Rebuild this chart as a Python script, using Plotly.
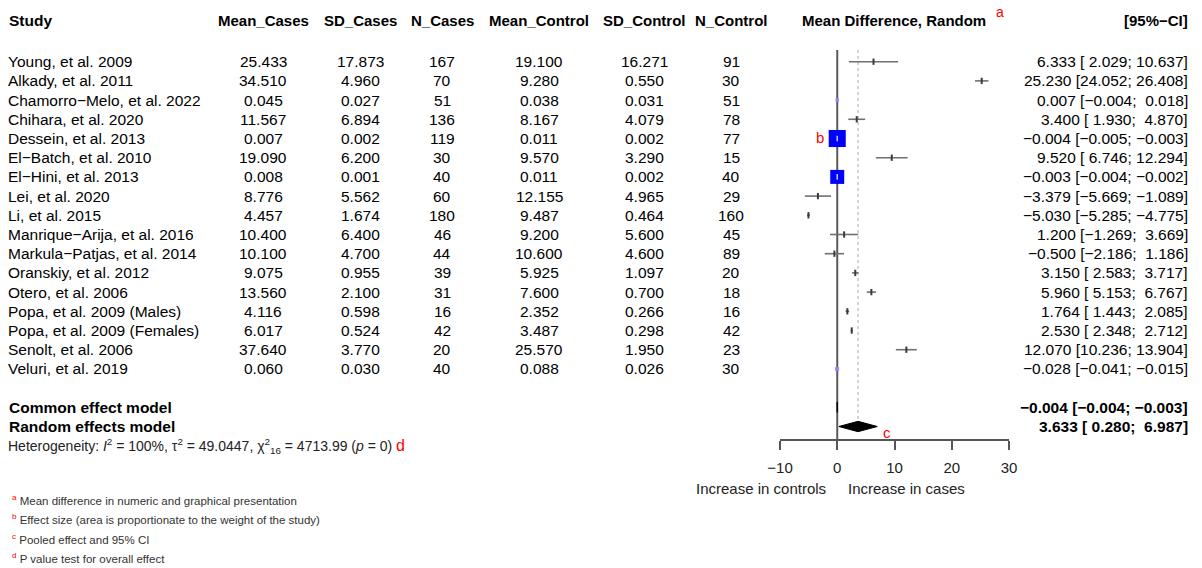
import plotly.graph_objects as go
import math

# ---------------- data ----------------
studies = ["Young, et al. 2009", "Alkady, et al. 2011", "Chamorro−Melo, et al. 2022",
           "Chihara, et al. 2020", "Dessein, et al. 2013", "El−Batch, et al. 2010",
           "El−Hini, et al. 2013", "Lei, et al. 2020", "Li, et al. 2015",
           "Manrique−Arija, et al. 2016", "Markula−Patjas, et al. 2014", "Oranskiy, et al. 2012",
           "Otero, et al. 2006", "Popa, et al. 2009 (Males)", "Popa, et al. 2009 (Females)",
           "Senolt, et al. 2006", "Veluri, et al. 2019"]
mean_cases = [25.433, 34.510, 0.045, 11.567, 0.007, 19.090, 0.008, 8.776, 4.457,
              10.400, 10.100, 9.075, 13.560, 4.116, 6.017, 37.640, 0.060]
sd_cases = [17.873, 4.960, 0.027, 6.894, 0.002, 6.200, 0.001, 5.562, 1.674,
            6.400, 4.700, 0.955, 2.100, 0.598, 0.524, 3.770, 0.030]
n_cases = [167, 70, 51, 136, 119, 30, 40, 60, 180, 46, 44, 39, 31, 16, 42, 20, 40]
mean_control = [19.100, 9.280, 0.038, 8.167, 0.011, 9.570, 0.011, 12.155, 9.487,
                9.200, 10.600, 5.925, 7.600, 2.352, 3.487, 25.570, 0.088]
sd_control = [16.271, 0.550, 0.031, 4.079, 0.002, 3.290, 0.002, 4.965, 0.464,
              5.600, 4.600, 1.097, 0.700, 0.266, 0.298, 1.950, 0.026]
n_control = [91, 30, 51, 78, 77, 15, 40, 29, 160, 45, 89, 20, 18, 16, 42, 23, 30]
md = [6.333, 25.230, 0.007, 3.400, -0.004, 9.520, -0.003, -3.379, -5.030,
      1.200, -0.500, 3.150, 5.960, 1.764, 2.530, 12.070, -0.028]
ci_lo = [2.029, 24.052, -0.004, 1.930, -0.005, 6.746, -0.004, -5.669, -5.285,
         -1.269, -2.186, 2.583, 5.153, 1.443, 2.348, 10.236, -0.041]
ci_hi = [10.637, 26.408, 0.018, 4.870, -0.003, 12.294, -0.002, -1.089, -4.775,
         3.669, 1.186, 3.717, 6.767, 2.085, 2.712, 13.904, -0.015]
# approximate (common effect) weights in %, read from the square areas
weights = [0.0, 0.0, 2.0, 0.0, 55.0, 0.0, 37.0, 0.0, 0.0,
           0.0, 0.0, 0.0, 0.0, 0.0, 0.0, 0.0, 3.0]

pooled_names = ["Common effect model", "Random effects model"]
pooled_est = [-0.004, 3.633]
pooled_lo = [-0.004, 0.280]
pooled_hi = [-0.003, 6.987]

x_ticks = [-10, 0, 10, 20, 30]

headers = ["Mean_Cases", "SD_Cases", "N_Cases", "Mean_Control", "SD_Control", "N_Control"]

footnotes = [("a", "Mean difference in numeric and graphical presentation"),
             ("b", "Effect size (area is proportionate to the weight of the study)"),
             ("c", "Pooled effect and 95% CI"),
             ("d", "P value test for overall effect")]

# ---------------- layout helpers ----------------
W, H = 1202, 568
FONT = "Liberation Sans, Arial, Helvetica, sans-serif"
FS = 15.5
ROW0, ROWH = 61.7, 19.2


def px2row(py):
    return (py - ROW0) / ROWH


def fx(px):
    return px / W


def minus(s):
    return s.replace("-", "−")


def ci_text(e, lo, hi):
    return minus(f"{e:.3f} [{lo:6.3f}; {hi:6.3f}]")


rows = list(range(len(studies)))
row_common = len(studies) + 1
row_random = len(studies) + 2
row_het = len(studies) + 3
pooled_rows = [row_common, row_random]

fig = go.Figure()

# CI lines
cx, cy = [], []
for i in rows:
    cx += [ci_lo[i], ci_hi[i], None]
    cy += [i, i, None]
fig.add_trace(go.Scatter(x=cx, y=cy, mode="lines",
                         line=dict(color="#707070", width=1.6),
                         hoverinfo="skip", showlegend=False))

# tiny point estimates (negligible weight) drawn as short dark ticks
small = [i for i in rows if weights[i] < 1]
fig.add_trace(go.Scatter(x=[md[i] for i in small], y=small, mode="markers",
                         marker=dict(symbol="line-ns", size=4.5, opacity=1,
                                     line=dict(color="#3a3a3a", width=2)),
                         hoverinfo="skip", showlegend=False))

# weighted squares
big = [i for i in rows if weights[i] >= 1]
fig.add_trace(go.Scatter(x=[md[i] for i in big], y=big, mode="markers",
                         marker=dict(symbol="square", opacity=1,
                                     size=[max(3.5, 2.3 * math.sqrt(weights[i])) for i in big],
                                     color=["#0000ff" if weights[i] >= 10 else "#8c8cff"
                                            for i in big],
                                     line=dict(width=0)),
                         hoverinfo="skip", showlegend=False))
# light CI tick inside the large squares
inner = [i for i in rows if weights[i] >= 10]
fig.add_trace(go.Scatter(x=[md[i] for i in inner], y=inner, mode="markers",
                         marker=dict(symbol="line-ns", size=4, opacity=1,
                                     line=dict(color="#c8c8ff", width=1.5)),
                         hoverinfo="skip", showlegend=False))

# diamonds
for k, r in enumerate(pooled_rows):
    h = 0.27
    fig.add_trace(go.Scatter(
        x=[pooled_lo[k], pooled_est[k], pooled_hi[k], pooled_est[k], pooled_lo[k]],
        y=[r, r - h, r, r + h, r], mode="lines", fill="toself",
        fillcolor="black", line=dict(color="black", width=1),
        hoverinfo="skip", showlegend=False))

axis_row = px2row(440)

shapes = [
    dict(type="line", xref="x", yref="y", x0=0, x1=0, y0=px2row(50), y1=axis_row,
         line=dict(color="#5a5a5a", width=2), layer="below"),
    dict(type="line", xref="x", yref="y", x0=pooled_est[1], x1=pooled_est[1],
         y0=px2row(50), y1=row_random, line=dict(color="#aaaaaa", width=1, dash="dot"),
         layer="below"),
]

ann = []


def txt(x, y, s, anchor="left", size=FS, bold=False, color="black"):
    if bold:
        s = f"<b>{s}</b>"
    ann.append(dict(x=fx(x), y=y, xref="paper", yref="y", text=s, showarrow=False,
                    xanchor=anchor, yanchor="middle",
                    font=dict(family=FONT, size=size, color=color)))


head_row = px2row(20)
txt(7, head_row, "Study", bold=True)
col_centers = [263, 360, 442, 539, 644, 731]
for h, c in zip(headers, col_centers):
    txt(c, head_row, h, anchor="center", bold=True, size=15)
txt(894, head_row, "Mean Difference, Random", anchor="center", bold=True, size=15)
txt(994, px2row(12), "a", size=14, color="red")
txt(1190, head_row, "[95%−CI]", anchor="right", bold=True, size=15)

cols = [mean_cases, sd_cases, n_cases, mean_control, sd_control, n_control]
for i in rows:
    txt(6, i, studies[i])
    for j, (vals, c) in enumerate(zip(cols, col_centers)):
        v = vals[i]
        s = str(v) if isinstance(v, int) else f"{v:.3f}"
        txt(c, i, s, anchor="center")
    txt(1190, i, ci_text(md[i], ci_lo[i], ci_hi[i]), anchor="right")

for k, r in enumerate(pooled_rows):
    txt(7, r, pooled_names[k], bold=True)
    txt(1190, r, ci_text(pooled_est[k], pooled_lo[k], pooled_hi[k]), anchor="right", bold=True)

txt(6, row_het,
    "Heterogeneity: <i>I</i><sup>2</sup> = 100%, τ<sup>2</sup> = 49.0447, "
    "χ<sup>2</sup><sub>16</sub> = 4713.99 (<i>p</i> = 0) "
    "<span style='color:red;font-size:16px'>d</span>", size=14, color="#222222")

txt(814, px2row(137), "b", size=15, color="red")
txt(881, px2row(432), "c", size=15, color="red")

txt(828, px2row(488), "Increase in controls", anchor="right", size=15, color="#222222")
txt(846, px2row(488), "Increase in cases", anchor="left", size=15, color="#222222")

for k, (letter, note) in enumerate(footnotes):
    py = 500 + k * 19.3
    txt(10, px2row(py),
        f"<span style='color:red'><sup>{letter}</sup></span> {note}",
        size=11.5, color="#333333")

fig.update_layout(
    width=W, height=H, margin=dict(l=0, r=0, t=0, b=0, pad=0, autoexpand=False),
    plot_bgcolor="white", paper_bgcolor="white",
    shapes=shapes, annotations=ann,
    xaxis=dict(domain=[780 / W, 1009 / W], range=[-10, 30], anchor="free",
               position=(H - 440) / H, showline=True, linecolor="#555555", linewidth=1.5,
               ticks="outside", ticklen=9, tickwidth=1.5, tickcolor="#555555",
               tickvals=x_ticks, ticktext=[minus(str(t)) for t in x_ticks],
               tickfont=dict(family=FONT, size=15, color="#222222"),
               ticklabelstandoff=5, automargin=False,
               showgrid=False, zeroline=False, fixedrange=True),
    yaxis=dict(domain=[0, 1], range=[px2row(H), px2row(0)], visible=False,
               automargin=False, showgrid=False, zeroline=False),
    showlegend=False,
)

fig.write_html("out.html", config={"responsive": False, "displayModeBar": False},
               post_script="document.body.style.margin='0';"
                           "document.body.style.overflow='hidden';")
